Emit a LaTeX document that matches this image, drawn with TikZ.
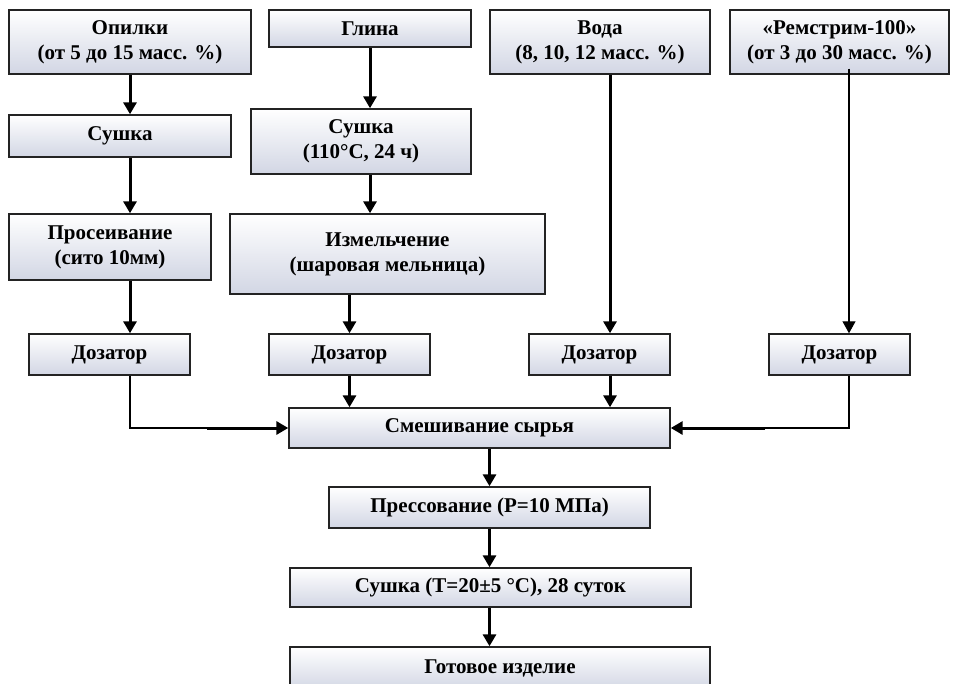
\documentclass[tikz,border=0pt]{standalone}
\usepackage{fontspec}
\setmainfont{Liberation Serif}
\usetikzlibrary{arrows.meta}
\definecolor{boxbot}{RGB}{210,214,228}
\definecolor{boxline}{RGB}{35,35,35}
\begin{document}
\begin{tikzpicture}[x=1pt,y=-1pt,
  box/.style={draw=boxline, line width=1.4pt, top color=white, bottom color=boxbot,
    inner sep=0pt, align=center, text=black,
    font=\fontsize{21}{25}\selectfont\bfseries},
  thk/.style={line width=3pt, draw=black},
  thn/.style={line width=1.1pt, draw=black},
  tip/.style={-{Triangle[width=13pt,length=12pt]}}
]
\path[use as bounding box, fill=white] (0,0) rectangle (958,684);

% top row
\node[box, minimum width=242pt, minimum height=64pt] (op) at (130,42) {Опилки\\(от 5 до 15 масс. \%)};
\node[box, minimum width=202pt, minimum height=37pt] (gl) at (370,28.5) {Глина};
\node[box, minimum width=220pt, minimum height=64pt] (vo) at (600,42) {Вода\\(8, 10, 12 масс. \%)};
\node[box, minimum width=219pt, minimum height=64pt] (re) at (839.5,42) {«Ремстрим-100»\\(от 3 до 30 масс. \%)};

% second row
\node[box, minimum width=222pt, minimum height=42pt] (su1) at (120,136) {Сушка};
\node[box, minimum width=220pt, minimum height=65pt] (su2) at (361,141.5) {Сушка\\(110°C, 24 ч)};

% third row
\node[box, minimum width=202pt, minimum height=66pt] (pr) at (110,247) {Просеивание\\(сито 10мм)};
\node[box, minimum width=315pt, minimum height=80pt] (iz) at (387.5,254) {Измельчение\\(шаровая мельница)};

% dosers
\node[box, minimum width=161pt, minimum height=41pt] (d1) at (109.5,354.5) {Дозатор};
\node[box, minimum width=161pt, minimum height=41pt] (d2) at (349.5,354.5) {Дозатор};
\node[box, minimum width=141pt, minimum height=41pt] (d3) at (599.5,354.5) {Дозатор};
\node[box, minimum width=141pt, minimum height=41pt] (d4) at (839.5,354.5) {Дозатор};

% main line
\node[box, minimum width=381pt, minimum height=40pt] (mx) at (479.5,428) {Смешивание сырья};
\node[box, minimum width=321pt, minimum height=41pt] (ps) at (489.5,507.5) {Прессование (P=10 МПа)};
\node[box, minimum width=401pt, minimum height=39pt] (su3) at (490.5,587.5) {Сушка (T=20±5 °C), 28 суток};
\node[box, minimum width=420pt, minimum height=43pt] (gt) at (500,668.5) {Готовое изделие};

% left column
\draw[thk,tip] (op.south) -- (op.south |- su1.north);
\draw[thk,tip] (op.south |- su1.south) -- (op.south |- pr.north);
\draw[thk,tip] (op.south |- pr.south) -- (op.south |- d1.north);
% clay column
\draw[thk,tip] (gl.south) -- (gl.south |- su2.north);
\draw[thk,tip] (gl.south |- su2.south) -- (gl.south |- iz.north);
\draw[thk,tip] (d2.north |- iz.south) -- (d2.north);
% water
\draw[thk,tip] ([xshift=10.5pt]d3.north |- vo.south) -- ([xshift=10.5pt]d3.north);
% remstrim
\draw[thn,tip] ([xshift=9.5pt,yshift=6pt]re.south) -- ([xshift=9.5pt]d4.north);

% into mixing
\coordinate (j1) at (207,428);
\coordinate (j4) at (765,428);
\draw[thn] (op.south |- d1.south) |- (j1);
\draw[thk,tip] (j1) -- (mx.west);
\draw[thn] ([xshift=9.5pt]d4.south) |- (j4);
\draw[thk,tip] (j4) -- (mx.east);
\draw[thk,tip] (d2.south) -- (d2.south |- mx.north);
\draw[thk,tip] ([xshift=10.5pt]d3.south) -- ([xshift=10.5pt]d3.south |- mx.north);

% main chain
\draw[thk,tip] (ps.north |- mx.south) -- (ps.north);
\draw[thk,tip] (ps.south) -- (ps.south |- su3.north);
\draw[thk,tip] (ps.south |- su3.south) -- (ps.south |- gt.north);
\end{tikzpicture}
\end{document}
